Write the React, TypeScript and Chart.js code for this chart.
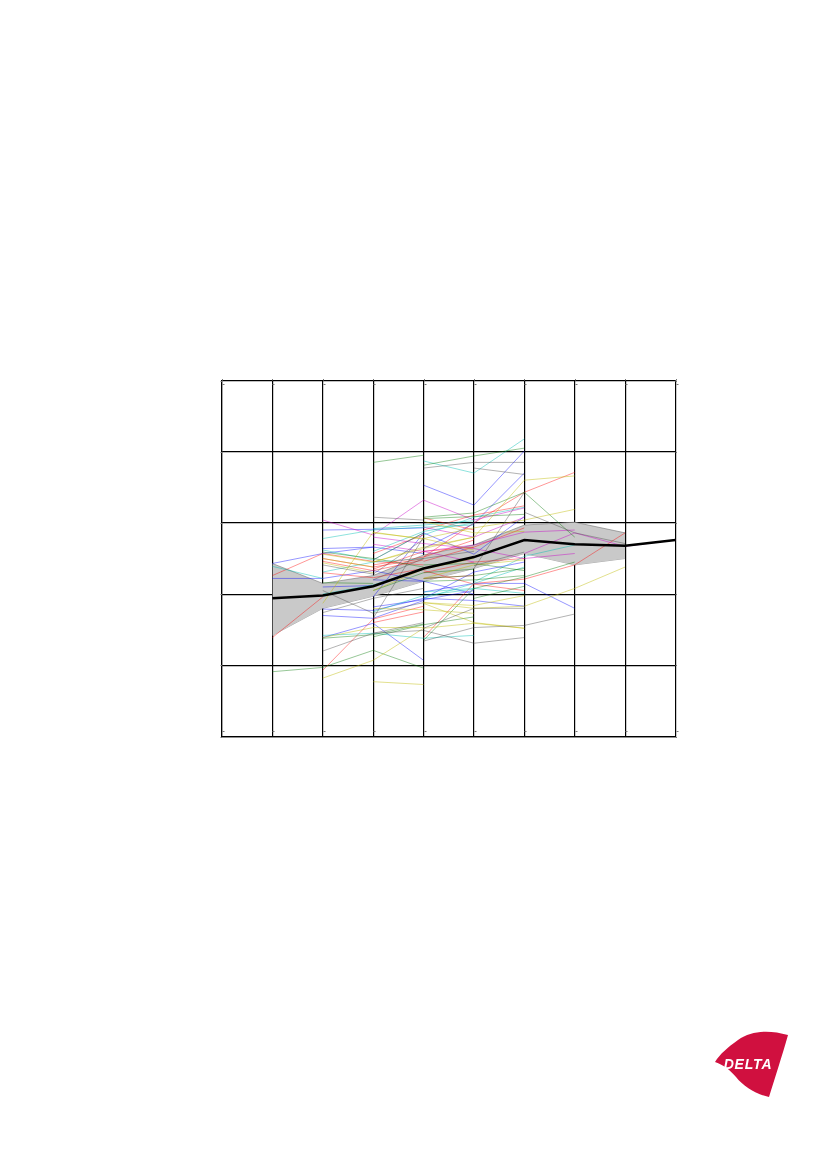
import React, { useEffect, useRef } from "react";
import { Chart, registerables } from "chart.js";

Chart.register(...registerables);

const categories = ["0", "1", "2", "3", "4", "5", "6", "7", "8", "9"];
const yTicks = [0, 10, 20, 30, 40, 50];

const meanLine = [null, 19.4, 19.8, 21.1, 23.6, 25.2, 27.6, 27.0, 26.8, 27.6];
const bandUpper = [null, 24.3, 21.5, 22.6, 25.5, 26.9, 29.7, 30.1, 28.6];
const bandLower = [null, 14.2, 18.0, 19.7, 21.8, 23.6, 25.7, 24.1, 25.0];

// [first category index, ...values]
const blueLines = [
  [1, 24.3, 25.7, 26.6, 25.7],
  [1, 22.2, 22.2],
  [2, 29.0, 29.1, 29.3],
  [2, 26.4, 26.6],
  [2, 22.2, 23.3, 21.8],
  [2, 21.0, 21.2],
  [2, 17.9, 17.7, 19.4],
  [2, 17.0, 16.6, 19.1],
  [2, 13.9, 15.9, 10.7],
  [3, 19.6, 28.6, 25.6, 30.9],
  [3, 22.0, 21.8, 20.0],
  [3, 18.2, 19.2, 20.5],
  [4, 26.4, 29.9, 37.0],
  [4, 35.3, 32.5, 40.1],
  [4, 19.4, 19.1, 18.3],
  [4, 20.3, 21.5, 21.5, 18.0],
  [4, 19.4, 23.1, 24.5],
];
const redLines = [
  [1, 22.6, 25.7, 24.6, 24.1],
  [1, 13.9, 19.6],
  [2, 25.0, 23.8, 25.0],
  [2, 24.6, 23.3, 24.8],
  [2, 23.0, 22.3, 23.6],
  [2, 9.3, 16.5, 18.3],
  [3, 25.7, 28.3],
  [3, 24.1, 25.2, 27.6],
  [3, 23.5, 26.0, 26.6],
  [3, 16.0, 17.5],
  [4, 25.2, 30.0, 34.3, 37.1],
  [4, 13.9, 21.5, 22.1, 24.1, 28.6],
  [4, 22.2, 22.6],
  [4, 23.3, 21.4, 20.5],
  [4, 29.0, 31.1, 32.4],
  [4, 24.6, 26.6, 29.3],
  [4, 23.0, 24.5, 25.0],
  [4, 30.7, 29.0],
];
const greenLines = [
  [1, 9.1, 9.7, 12.1, 9.6],
  [2, 13.8, 14.3, 15.8],
  [2, 25.9, 25.0, 23.8],
  [2, 21.6, 21.5],
  [3, 38.5, 39.5],
  [3, 20.5, 23.0, 23.5],
  [3, 14.0, 15.7, 16.8],
  [4, 38.1, 39.4, 40.5],
  [4, 30.8, 31.4, 34.3, 28.0],
  [4, 13.5, 20.8, 22.4, 24.5],
  [4, 24.1, 24.3, 23.3],
  [4, 22.2, 22.6, 23.6],
  [4, 21.8, 22.0, 22.6],
  [4, 30.6, 30.9, 31.2],
  [5, 19.4, 21.1],
];
const cyanLines = [
  [1, 23.9, 22.2],
  [2, 27.8, 29.0, 29.4, 29.7],
  [2, 26.2, 24.8, 28.6],
  [2, 23.1, 24.5, 25.0],
  [2, 20.0, 21.3, 23.5],
  [2, 14.2, 14.5, 13.8, 14.2],
  [3, 26.0, 28.8, 30.0],
  [3, 29.2, 29.7, 30.3],
  [3, 17.5, 19.8, 20.7],
  [4, 38.7, 37.0, 41.8],
  [4, 19.4, 21.5, 23.8],
  [4, 20.3, 20.8, 20.1],
  [4, 28.3, 30.8, 32.2],
  [5, 21.7, 25.3, 26.9],
];
const magentaLines = [
  [2, 30.4, 28.3, 33.2, 30.4, 32.1],
  [3, 28.0, 27.1, 26.4, 25.0, 25.7],
  [3, 27.0, 26.0, 24.5],
  [4, 29.4, 28.0, 30.8],
  [4, 26.0, 26.9, 28.7, 29.0],
  [6, 25.7, 28.6, 26.7, 27.6],
];
const yellowLines = [
  [2, 25.6, 24.5, 26.4],
  [2, 25.0, 23.8],
  [2, 24.4, 23.0],
  [2, 18.7, 28.7, 27.7],
  [2, 8.2, 10.7, 15.2, 15.9, 15.2],
  [2, 13.9, 15.3, 15.3],
  [3, 7.7, 7.3],
  [3, 24.5, 26.6, 28.0],
  [3, 28.6, 27.8, 26.2],
  [3, 20.5, 23.5, 25.0],
  [3, 18.0, 17.8, 17.3],
  [4, 18.8, 18.0, 18.3, 20.8, 23.8],
  [4, 18.8, 18.4, 19.8],
  [4, 18.7, 16.0, 15.2],
  [4, 26.4, 28.0, 36.0, 36.6],
  [4, 27.8, 29.3, 30.4, 31.9],
  [4, 22.2, 24.1, 24.8],
  [4, 30.2, 28.6, 28.8],
];
const grayLines = [
  [2, 12.0, 14.5, 14.9, 13.1, 13.9],
  [2, 17.4, 19.4, 20.8],
  [2, 20.5, 17.3, 18.8],
  [2, 24.1, 22.8, 27.7],
  [3, 16.6, 28.0],
  [3, 24.8, 28.6],
  [3, 22.0, 25.0, 26.0],
  [3, 14.5, 16.0],
  [3, 30.8, 30.4],
  [4, 37.7, 38.5, 38.5],
  [4, 13.4, 15.3, 15.6, 17.2],
  [4, 15.2, 18.0, 18.0],
  [5, 23.6, 34.3],
  [5, 24.0, 25.9],
  [5, 37.7, 36.8],
  [6, 31.5, 28.6, 27.1],
];

const palette = {
  blue: "rgba(0,0,255,0.55)",
  red: "rgba(255,0,0,0.55)",
  green: "rgba(0,120,0,0.55)",
  cyan: "rgba(0,190,180,0.6)",
  magenta: "rgba(200,0,200,0.6)",
  yellow: "rgba(190,185,0,0.6)",
  gray: "rgba(70,70,70,0.55)",
};

const pad = (row: number[]) => {
  const [start, ...values] = row;
  return [...Array(start).fill(null), ...values];
};

const thin = (rows: number[][], color: string) =>
  rows.map((row) => ({
    data: pad(row),
    borderColor: color,
    borderWidth: 0.75,
    pointRadius: 0,
    tension: 0,
    fill: false,
    order: 5,
  }));

const tickMarks = {
  id: "tickMarks",
  afterDatasetsDraw(chart: any) {
    const { ctx, scales } = chart;
    const { x, y } = scales;
    ctx.save();
    ctx.strokeStyle = "#777";
    ctx.lineWidth = 1;
    categories.forEach((_, i) => {
      const px = Math.round(x.getPixelForValue(i)) + 0.5;
      ctx.beginPath();
      ctx.moveTo(px, y.top - 1.5);
      ctx.lineTo(px, y.top);
      ctx.moveTo(px, y.top + 4);
      ctx.lineTo(px + 2, y.top + 4);
      ctx.moveTo(px, y.bottom - 5);
      ctx.lineTo(px + 2, y.bottom - 5);
      ctx.stroke();
    });
    yTicks.forEach((t) => {
      const py = Math.round(y.getPixelForValue(t)) + 0.5;
      ctx.beginPath();
      ctx.moveTo(x.left - 1.5, py);
      ctx.lineTo(x.left, py);
      ctx.moveTo(x.right, py);
      ctx.lineTo(x.right + 1.5, py);
      ctx.stroke();
    });
    ctx.restore();
  },
};

export default function App() {
  const ref = useRef<HTMLCanvasElement>(null);

  useEffect(() => {
    const chart = new Chart(ref.current!, {
      type: "line",
      plugins: [tickMarks],
      data: {
        labels: categories,
        datasets: [
          {
            data: bandUpper,
            borderColor: "rgba(110,110,110,0.8)",
            borderWidth: 0.7,
            backgroundColor: "#c9c9c9",
            pointRadius: 0,
            tension: 0,
            fill: "+1",
            order: 9,
          },
          {
            data: bandLower,
            borderColor: "rgba(110,110,110,0.8)",
            borderWidth: 0.7,
            pointRadius: 0,
            tension: 0,
            fill: false,
            order: 9,
          },
          ...thin(grayLines, palette.gray),
          ...thin(yellowLines, palette.yellow),
          ...thin(greenLines, palette.green),
          ...thin(cyanLines, palette.cyan),
          ...thin(magentaLines, palette.magenta),
          ...thin(redLines, palette.red),
          ...thin(blueLines, palette.blue),
          {
            data: meanLine,
            borderColor: "#000",
            borderWidth: 2.5,
            pointRadius: 0,
            tension: 0,
            fill: false,
            order: 1,
          },
        ] as any,
      },
      options: {
        animation: false,
        responsive: false,
        devicePixelRatio: 1,
        layout: { padding: { left: 222, right: 151.5, top: 380.5, bottom: 432.5 } },
        plugins: { legend: { display: false }, tooltip: { enabled: false } },
        scales: {
          x: {
            type: "category",
            offset: false,
            border: { display: true, color: "#000", width: 1.2 },
            grid: { color: "#000", lineWidth: 1.2, tickLength: 0, drawTicks: false },
            ticks: { display: false },
          },
          y: {
            min: 0,
            max: 50,
            afterBuildTicks: (axis: any) => {
              axis.ticks = yTicks.map((value) => ({ value }));
            },
            border: { display: true, color: "#000", width: 1.2 },
            grid: { color: "#000", lineWidth: 1.2, tickLength: 0, drawTicks: false },
            ticks: { display: false },
          },
        },
      },
    });
    return () => chart.destroy();
  }, []);

  return (
    <div style={{ position: "absolute", left: 0, top: 0, width: 827, height: 1169, background: "#fff", overflow: "hidden" }}>
      <canvas ref={ref} width={827} height={1169} style={{ position: "absolute", left: 0, top: 0, width: 827, height: 1169 }} />
      <svg width={827} height={1169} style={{ position: "absolute", left: 0, top: 0 }}>
        <path
          d="M788 1035 C770 1030 752 1030 738 1040 C728 1047 720 1054 715 1062 C724 1065 730 1070 736 1077 C744 1087 756 1094 769 1097 C775 1078 782 1056 788 1035 Z"
          fill="#d0103f"
        />
        <text
          x="748"
          y="1068.5"
          textAnchor="middle"
          fill="#fff"
          style={{ font: "italic 700 14px 'Liberation Sans'", letterSpacing: "0.8px" }}
        >
          DELTA
        </text>
      </svg>
    </div>
  );
}
